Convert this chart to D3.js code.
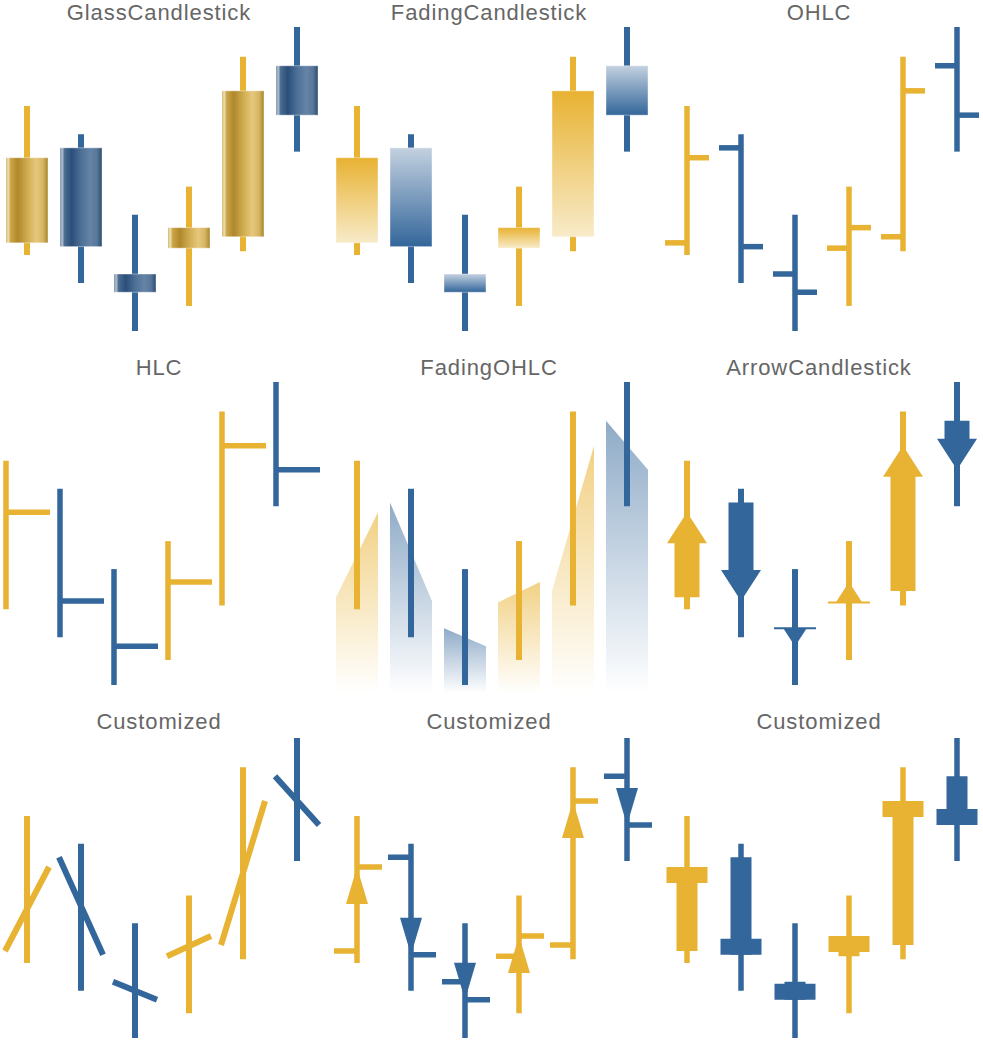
<!DOCTYPE html>
<html>
<head>
<meta charset="utf-8">
<script src="https://cdn.jsdelivr.net/npm/d3@7"></script>
<style>
  html, body { margin: 0; padding: 0; background: #fff; }
  svg { display: block; }
</style>
</head>
<body>
<svg id="chart" width="983" height="1055"></svg>
<script>
// ---------------- DATA ----------------
const categories = ["1", "2", "3", "4", "5", "6"];
const openVals  = [21.6, 34.1, 17.5, 20.9, 22.4, 44.9];
const highVals  = [39.6, 35.9, 25.3, 29.0, 46.1, 50.0];
const lowVals   = [20.0, 16.3, 10.0, 13.3, 20.5, 33.6];
const closeVals = [32.8, 21.1, 15.1, 23.6, 41.6, 38.4];
const panelTitles = ["GlassCandlestick", "FadingCandlestick", "OHLC",
                     "HLC", "FadingOHLC", "ArrowCandlestick",
                     "Customized", "Customized", "Customized"];

// ---------------- STYLE / LAYOUT ----------------
const UP = "#E8B232", DOWN = "#33669A";
const svg = d3.select("#chart");
const panelX = [0, 330, 660];
const rowRanges = [[331, 27], [685, 382], [1038, 738]];
const titleY = [20, 375, 729];

const data = categories.map((c, i) => ({
  c, o: openVals[i], h: highVals[i], l: lowVals[i], cl: closeVals[i],
  up: closeVals[i] > openVals[i]
}));
const col = d => d.up ? UP : DOWN;

// ---------------- GRADIENTS ----------------
const defs = svg.append("defs");
function linGrad(id, stops, vertical) {
  const g = defs.append("linearGradient").attr("id", id)
    .attr("x1", 0).attr("y1", 0)
    .attr("x2", vertical ? 0 : 1).attr("y2", vertical ? 1 : 0);
  stops.forEach(s => g.append("stop").attr("offset", s[0])
    .attr("stop-color", s[1]).attr("stop-opacity", s[2] == null ? 1 : s[2]));
}
linGrad("glassUp", [[0, "#c9a443"], [0.05, "#efe3c0"], [0.11, "#cca646"], [0.28, "#ae882b"],
  [0.52, "#d2ae53"], [0.72, "#e6c87c"], [0.88, "#d6b564"], [1, "#a8852a"]]);
linGrad("glassDown", [[0, "#5b7795"], [0.05, "#b9c6d4"], [0.11, "#4a6b90"], [0.28, "#2b4f79"],
  [0.52, "#4f7299"], [0.72, "#6483a5"], [0.88, "#587799"], [1, "#2a4b72"]]);
linGrad("fadeUp", [[0, UP], [1, "#f8ebc9"]], true);
linGrad("fadeDown", [[0, "#c3d1e0"], [1, DOWN]], true);
linGrad("fohlcUp", [[0, UP, 0.6], [1, UP, 0.0]], true);
linGrad("fohlcDown", [[0, DOWN, 0.55], [1, DOWN, 0.0]], true);

// ---------------- DRAWERS ----------------
function vline(g, x, y1, y2, color, w) {
  g.append("line").attr("x1", x).attr("x2", x).attr("y1", y1).attr("y2", y2)
    .attr("stroke", color).attr("stroke-width", w);
}
function hline(g, x1, x2, y, color, w) {
  g.append("line").attr("x1", x1).attr("x2", x2).attr("y1", y).attr("y2", y)
    .attr("stroke", color).attr("stroke-width", w);
}

const drawers = [
  // GlassCandlestick
  (g, d, cx, y) => {
    vline(g, cx, y(d.h), y(d.l), col(d), 6);
    g.append("rect").attr("x", cx - 21).attr("width", 42)
      .attr("y", Math.min(y(d.o), y(d.cl))).attr("height", Math.abs(y(d.o) - y(d.cl)))
      .attr("fill", d.up ? "url(#glassUp)" : "url(#glassDown)")
      .attr("stroke", "#ffffff").attr("stroke-opacity", 0.4).attr("stroke-width", 1);
  },
  // FadingCandlestick
  (g, d, cx, y) => {
    vline(g, cx, y(d.h), y(d.l), col(d), 6);
    g.append("rect").attr("x", cx - 21).attr("width", 42)
      .attr("y", Math.min(y(d.o), y(d.cl))).attr("height", Math.abs(y(d.o) - y(d.cl)))
      .attr("fill", d.up ? "url(#fadeUp)" : "url(#fadeDown)")
      .attr("stroke", "#ffffff").attr("stroke-opacity", 0.4).attr("stroke-width", 1);
  },
  // OHLC
  (g, d, cx, y) => {
    vline(g, cx, y(d.h), y(d.l), col(d), 5.5);
    hline(g, cx - 22, cx, y(d.o), col(d), 5.5);
    hline(g, cx, cx + 22, y(d.cl), col(d), 5.5);
  },
  // HLC
  (g, d, cx, y) => {
    vline(g, cx - 21, y(d.h), y(d.l), col(d), 5.5);
    hline(g, cx - 21, cx + 23, y(d.cl), col(d), 5.5);
  },
  // FadingOHLC
  (g, d, cx, y) => {
    const bottom = y.range()[0] + 8;
    g.append("polygon")
      .attr("points", [[cx - 21, y(d.o)], [cx + 21, y(d.cl)], [cx + 21, bottom], [cx - 21, bottom]]
        .map(p => p.join(",")).join(" "))
      .attr("fill", d.up ? "url(#fohlcUp)" : "url(#fohlcDown)");
    vline(g, cx, y(d.h), y(d.l), col(d), 6);
  },
  // ArrowCandlestick
  (g, d, cx, y) => {
    const c = col(d);
    vline(g, cx, y(d.h), y(d.l), c, 6);
    const yo = y(d.o), yc = y(d.cl);
    const dir = yc < yo ? -1 : 1;           // -1 = arrow upward
    const len = Math.abs(yc - yo);
    const headL = 31, headW = 20, shaftW = 12.5;
    if (len > headL) {
      const yb = yc - dir * headL;
      const pts = [[cx - shaftW, yo], [cx - shaftW, yb], [cx - headW, yb], [cx, yc],
                   [cx + headW, yb], [cx + shaftW, yb], [cx + shaftW, yo]];
      g.append("polygon").attr("points", pts.map(p => p.join(",")).join(" ")).attr("fill", c);
    } else {
      const hw = headW * len / headL;
      g.append("polygon").attr("points",
        [[cx - hw, yo], [cx, yc], [cx + hw, yo]].map(p => p.join(",")).join(" ")).attr("fill", c);
      hline(g, cx - 21, cx + 21, yo, c, 2);
    }
  },
  // Customized 1: slanted open-close line
  (g, d, cx, y) => {
    vline(g, cx, y(d.h), y(d.l), col(d), 6);
    g.append("line").attr("x1", cx - 22).attr("y1", y(d.o))
      .attr("x2", cx + 22).attr("y2", y(d.cl))
      .attr("stroke", col(d)).attr("stroke-width", 6);
  },
  // Customized 2: OHLC with arrow
  (g, d, cx, y) => {
    const c = col(d);
    vline(g, cx, y(d.h), y(d.l), c, 5.5);
    hline(g, cx - 23, cx, y(d.o), c, 5.5);
    hline(g, cx, cx + 25, y(d.cl), c, 5.5);
    const yo = y(d.o), yc = y(d.cl);
    const dir = yc < yo ? -1 : 1;
    const yb = yc - dir * 37;
    g.append("polygon").attr("points",
      [[cx - 11, yb], [cx, yc], [cx + 11, yb]].map(p => p.join(",")).join(" ")).attr("fill", c);
  },
  // Customized 3: narrow body with wide close block
  (g, d, cx, y) => {
    const c = col(d);
    vline(g, cx, y(d.h), y(d.l), c, 5.5);
    const yo = y(d.o), yc = y(d.cl);
    g.append("rect").attr("x", cx - 10.5).attr("width", 21)
      .attr("y", Math.min(yo, yc)).attr("height", Math.abs(yo - yc)).attr("fill", c);
    const dir = yc < yo ? 1 : -1; // block extends from close toward open
    const by = dir > 0 ? yc : yc - 16;
    g.append("rect").attr("x", cx - 20.5).attr("width", 41)
      .attr("y", by).attr("height", 16).attr("fill", c);
  }
];

// ---------------- RENDER PANELS ----------------
const x = d3.scaleBand().domain(categories).range([0, 324]).padding(0);

panelTitles.forEach((title, i) => {
  const colI = i % 3, row = Math.floor(i / 3);
  const g = svg.append("g").attr("transform", `translate(${panelX[colI]},0)`);
  const y = d3.scaleLinear().domain([10, 50]).range(rowRanges[row]);
  g.append("text")
    .attr("x", 159).attr("y", titleY[row])
    .attr("text-anchor", "middle")
    .attr("font-family", "'Liberation Sans', Arial, Helvetica, sans-serif")
    .attr("font-size", 22)
    .attr("letter-spacing", 0.9)
    .attr("fill", "#666666")
    .text(title);
  data.forEach(d => {
    const cx = x(d.c) + x.bandwidth() / 2;
    drawers[i](g.append("g"), d, cx, y);
  });
});
</script>
</body>
</html>
